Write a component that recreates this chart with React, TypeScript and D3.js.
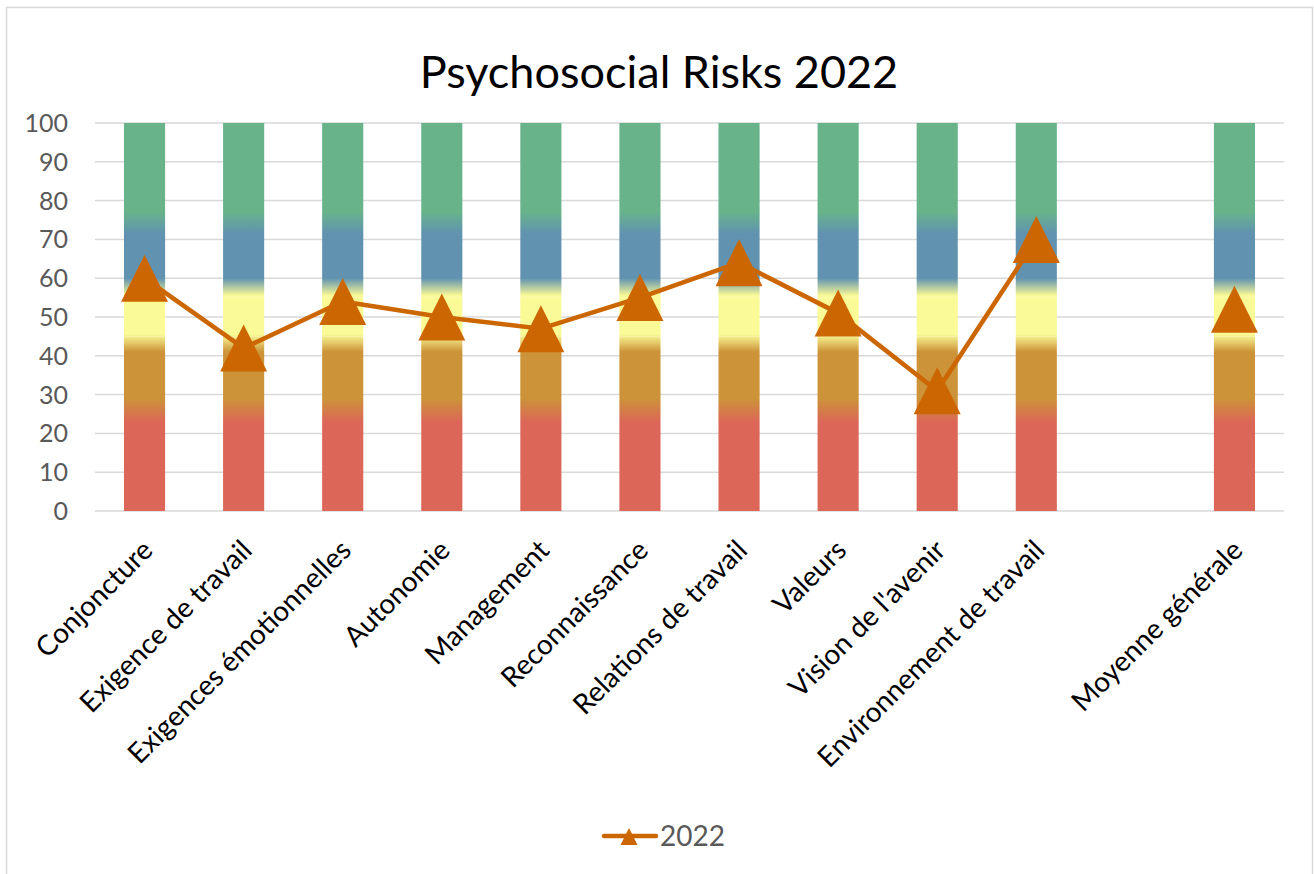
import React from 'react';
import * as d3 from 'd3';

const categories = [
  'Conjoncture',
  'Exigence de travail',
  'Exigences émotionnelles',
  'Autonomie',
  'Management',
  'Reconnaissance',
  'Relations de travail',
  'Valeurs',
  "Vision de l'avenir",
  'Environnement de travail',
  '',
  'Moyenne générale',
];

// 2022 score per category (no value for the empty slot)
const values2022 = [60, 42, 54, 50, 47, 55, 64, 51, 31, 70, null, 52];

// background bands, stacked to 100 (only shown on categories that have a bar)
const bandSizes = [25, 20, 10, 20, 25];
const hasBar = [true, true, true, true, true, true, true, true, true, true, false, true];

const yTicks = [0, 10, 20, 30, 40, 50, 60, 70, 80, 90, 100];

const title = 'Psychosocial Risks 2022';
const seriesName = '2022';

const W = 1314;
const H = 874;
const margin = { left: 95, right: 30, top: 123, bottom: 363 };

const lineColor = '#cc6600';
const gridColor = '#d9d9d9';
const font = 'Lato, "Open Sans", sans-serif';

// colour ramp along the value axis
const gradientStops = [
  { v: 0, c: '#dc6758' },
  { v: 23, c: '#dc6758' },
  { v: 29, c: '#cc9338' },
  { v: 41, c: '#cc9338' },
  { v: 45.5, c: '#fafa96' },
  { v: 55.5, c: '#fafa96' },
  { v: 60, c: '#6193b1' },
  { v: 71.5, c: '#6193b1' },
  { v: 77, c: '#68b38a' },
  { v: 100, c: '#68b38a' },
];

function triangle(cx: number, cy: number, w: number, h: number) {
  return `M${cx},${cy - h / 2}L${cx + w / 2},${cy + h / 2}L${cx - w / 2},${cy + h / 2}Z`;
}

export default function App() {
  const x = d3
    .scaleBand<number>()
    .domain(d3.range(categories.length))
    .range([margin.left, W - margin.right])
    .paddingInner(0.585)
    .paddingOuter(0.2925);

  const y = d3
    .scaleLinear()
    .domain([0, 100])
    .range([H - margin.bottom, margin.top]);

  const cx = (i: number) => (x(i) as number) + x.bandwidth() / 2;

  const stackRows = categories.map((_, i) => {
    const row: any = { i };
    bandSizes.forEach((s, k) => (row[k] = hasBar[i] ? s : 0));
    return row;
  });
  const stacked = d3.stack<any>().keys(bandSizes.map((_, k) => String(k)))(stackRows);

  const line = d3
    .line<number | null>()
    .defined((d) => d != null)
    .x((_, i) => cx(i))
    .y((d) => y(d as number));

  const legendX = 630;
  const legendY = 836;

  return (
    <svg
      width={W}
      height={H}
      viewBox={`0 0 ${W} ${H}`}
      style={{ position: 'absolute', left: 0, top: 0, background: '#fff' }}
    >
      <defs>
        <linearGradient
          id="bandFill"
          gradientUnits="userSpaceOnUse"
          x1={0}
          x2={0}
          y1={y(0)}
          y2={y(100)}
        >
          {gradientStops.map((s, k) => (
            <stop key={k} offset={s.v / 100} stopColor={s.c} />
          ))}
        </linearGradient>
      </defs>

      <rect x={6.5} y={7.5} width={1306} height={880} fill="#fff" stroke={gridColor} strokeWidth={1.5} />

      <text
        x={W / 2 + 2}
        y={88}
        textAnchor="middle"
        fontFamily={font}
        fontSize={45}
        fill="#000"
      >
        {title}
      </text>

      <g className="grid">
        {yTicks.map((t) => (
          <line
            key={t}
            x1={margin.left}
            x2={W - margin.right}
            y1={y(t)}
            y2={y(t)}
            stroke={gridColor}
            strokeWidth={1.5}
          />
        ))}
      </g>

      <g className="y-labels" fontFamily={font} fontSize={25} fill="#595959">
        {yTicks.map((t) => (
          <text key={t} x={68} y={y(t)} dy="0.36em" textAnchor="end">
            {t}
          </text>
        ))}
      </g>

      <g className="bars">
        {stacked.map((layer, k) => (
          <g key={k}>
            {layer.map((d, i) =>
              d[1] > d[0] ? (
                <rect
                  key={i}
                  x={x(i)}
                  width={x.bandwidth()}
                  y={y(d[1])}
                  height={y(d[0]) - y(d[1])}
                  fill="url(#bandFill)"
                />
              ) : null
            )}
          </g>
        ))}
      </g>

      <g className="x-labels" fontFamily={font} fontSize={28} fill="#000">
        {categories.map((c, i) => (
          <text
            key={i}
            textAnchor="end"
            transform={`translate(${cx(i) + 10},${y(0) + 41}) rotate(-45)`}
          >
            {c}
          </text>
        ))}
      </g>

      <path
        d={line(values2022) || ''}
        fill="none"
        stroke={lineColor}
        strokeWidth={4.5}
        strokeLinejoin="round"
      />
      <g className="markers">
        {values2022.map((v, i) =>
          v == null ? null : (
            <path key={i} d={triangle(cx(i), y(v), 47, 47)} fill={lineColor} />
          )
        )}
      </g>

      <g className="legend">
        <line
          x1={legendX - 26}
          x2={legendX + 26}
          y1={legendY}
          y2={legendY}
          stroke={lineColor}
          strokeWidth={4.5}
          strokeLinecap="round"
        />
        <path d={triangle(legendX - 1, legendY + 0.5, 17, 17)} fill={lineColor} />
        <text x={660} y={legendY + 10} fontFamily={font} fontSize={28} fill="#595959">
          {seriesName}
        </text>
      </g>
    </svg>
  );
}
